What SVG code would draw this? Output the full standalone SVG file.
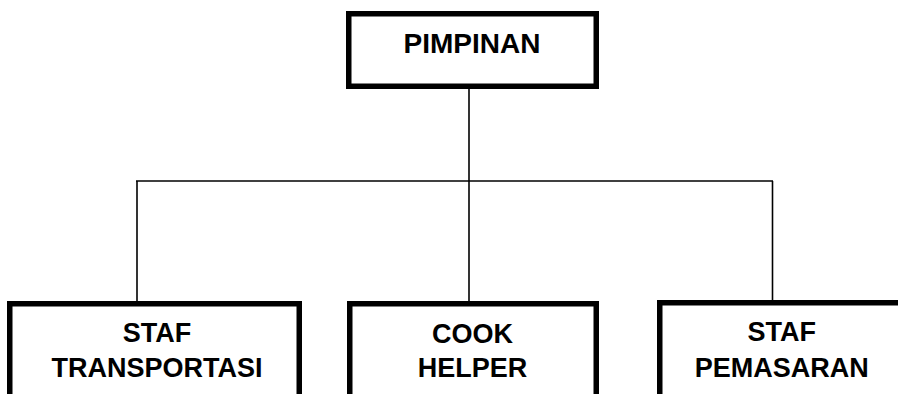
<svg xmlns="http://www.w3.org/2000/svg" width="898" height="394" viewBox="0 0 898 394">
<style>
.box{fill:#fff;stroke:#000;stroke-width:5.5}
.lbl{font-family:"Liberation Sans",Arial,sans-serif;font-weight:bold;font-size:27px;text-anchor:middle;fill:#000}
.con{stroke:#000;stroke-width:1.6;fill:none}
</style>
<rect width="898" height="394" fill="#fff"/>
<g id="connectors">
<line class="con" x1="469" y1="89" x2="469" y2="301"/>
<line class="con" x1="136" y1="181" x2="773" y2="181"/>
<line class="con" x1="137" y1="181" x2="137" y2="301"/>
<line class="con" x1="772.5" y1="181" x2="772.5" y2="301"/>
</g>
<g id="pimpinan">
<rect class="box" x="348.75" y="13.75" width="247.5" height="72.5"/>
<text class="lbl" x="472" y="53" style="font-size:28px">PIMPINAN</text>
</g>
<g id="staf-transportasi">
<rect class="box" x="9.75" y="303.75" width="289.5" height="200"/>
<text class="lbl" x="157" y="342">STAF</text>
<text class="lbl" x="157" y="377">TRANSPORTASI</text>
</g>
<g id="cook-helper">
<rect class="box" x="349.75" y="303.75" width="246.5" height="200"/>
<text class="lbl" x="472.5" y="343">COOK</text>
<text class="lbl" x="472.5" y="377">HELPER</text>
</g>
<g id="staf-pemasaran">
<rect class="box" x="659.75" y="302.75" width="300" height="200"/>
<text class="lbl" x="781.7" y="341">STAF</text>
<text class="lbl" x="781.7" y="377">PEMASARAN</text>
</g>
</svg>
